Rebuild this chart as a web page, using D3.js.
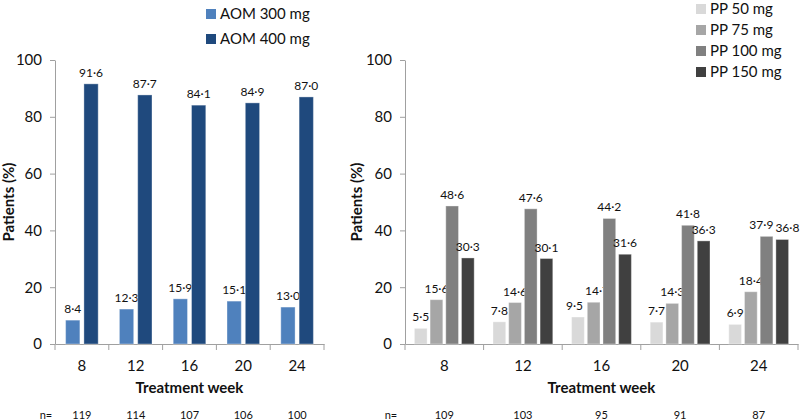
<!DOCTYPE html>
<html><head><meta charset="utf-8">
<script src="https://cdn.jsdelivr.net/npm/d3@7"></script>
<style>body{margin:0;background:#fff}svg{display:block;font-family:Lato,"Open Sans",sans-serif}</style>
</head><body><svg id="c" width="800" height="420"></svg>
<script>
const weeks = ["8","12","16","20","24"];
const aomSeries = ["AOM 300 mg","AOM 400 mg"];
const aom300 = [8.4,12.3,15.9,15.1,13.0];
const aom400 = [91.6,87.7,84.1,84.9,87.0];
const aomN = [119,114,107,106,100];
const ppSeries = ["PP 50 mg","PP 75 mg","PP 100 mg","PP 150 mg"];
const pp50 = [5.5,7.8,9.5,7.7,6.9];
const pp75 = [15.6,14.6,14.7,14.3,18.4];
const pp100 = [48.6,47.6,44.2,41.8,37.9];
const pp150 = [30.3,30.1,31.6,36.3,36.8];
const ppN = [109,103,95,91,87];
const yTicks = [0,20,40,60,80,100];

const aomColors = ["#4F81BD","#1F497D"];
const ppColors = ["#D9D9D9","#A6A6A6","#808080","#404040"];
const fmt = v => v.toFixed(1).replace(".", "\u00B7");

const svg = d3.select("#c");

function panel(cfg){
  const g = svg.append("g");
  const y = d3.scaleLinear().domain([0,100]).range([344,60]);
  const x0 = d3.scaleBand().domain(weeks).range([cfg.x0, cfg.x1]);
  const x1 = d3.scaleBand().domain(cfg.series).range([0, x0.bandwidth()]).paddingInner(cfg.pi).paddingOuter(cfg.po);
  const ya = g.append("g").attr("transform",`translate(${cfg.x0},0)`)
    .call(d3.axisLeft(y).tickValues(yTicks).tickSize(5).tickSizeOuter(0).tickPadding(8));
  ya.select(".domain").attr("stroke","#A0A0A0");
  ya.selectAll(".tick line").attr("stroke","#A0A0A0");
  ya.selectAll(".tick text").attr("font-size",15).attr("fill","#111").attr("font-family","Lato,'Open Sans',sans-serif");
  const xa = g.append("g").attr("transform","translate(0,344)")
    .call(d3.axisBottom(x0).tickSize(0).tickPadding(16));
  xa.select(".domain").attr("stroke","#A0A0A0");
  xa.selectAll(".tick text").attr("font-size",15).attr("fill","#111").attr("font-family","Lato,'Open Sans',sans-serif");
  const bounds = weeks.map(w=>x0(w)).concat([cfg.x1]);
  g.selectAll("line.sep").data(bounds).enter().append("line")
    .attr("x1",d=>d).attr("x2",d=>d).attr("y1",344).attr("y2",350).attr("stroke","#A0A0A0");
  const labels = weeks.map(()=>[]);
  cfg.series.forEach((s,si)=>{
    const vals = cfg.values[si];
    const gg = g.append("g");
    gg.selectAll("rect").data(vals).enter().append("rect")
      .attr("x",(d,i)=>x0(weeks[i])+x1(s)).attr("width",x1.bandwidth())
      .attr("y",d=>y(d)).attr("height",d=>y(0)-y(d))
      .attr("fill",cfg.colors[si]).attr("stroke","rgba(255,255,255,0.35)").attr("stroke-width",1);
    gg.selectAll("text").data(vals).enter().append("text")
      .attr("x",(d,i)=>x0(weeks[i])+x1(s)+x1.bandwidth()/2).attr("y",d=>y(d)-7)
      .attr("text-anchor","middle").attr("font-size",12).attr("fill","#111").text(fmt)
      .each(function(d,i){ labels[i].push(this); });
  });
  // nudge overlapping neighbour labels apart
  labels.forEach(arr=>{
    for(let k=0;k<arr.length-1;k++){
      const a=arr[k], b=arr[k+1];
      const ba=a.getBBox(), bb=b.getBBox();
      const vOver = Math.abs(ba.y-bb.y) < ba.height;
      const hOver = ba.x+ba.width+2 - bb.x;
      if(vOver && hOver>0){
        a.setAttribute("x", +a.getAttribute("x") - hOver/2);
        b.setAttribute("x", +b.getAttribute("x") + hOver/2);
      }
    }
  });
  g.append("text").attr("x",(cfg.x0+cfg.x1)/2).attr("y",393).attr("text-anchor","middle")
    .attr("font-size",15).attr("font-weight","bold").attr("fill","#111").text("Treatment week");
  g.append("text").attr("transform",`translate(${cfg.yt},202) rotate(-90)`).attr("text-anchor","middle")
    .attr("font-size",15).attr("font-weight","bold").attr("fill","#111").text("Patients (%)");
  g.append("text").attr("x",cfg.nx).attr("y",419).attr("text-anchor","middle").attr("font-size",11).attr("fill","#111").text("n=");
  g.selectAll("text.n").data(cfg.n).enter().append("text").attr("class","n")
    .attr("x",(d,i)=>x0(weeks[i])+x0.bandwidth()/2).attr("y",419).attr("text-anchor","middle")
    .attr("font-size",11).attr("fill","#111").text(d=>d);
  const lg = g.append("g");
  cfg.series.forEach((s,i)=>{
    const cy = cfg.ly + i*cfg.ldy;
    lg.append("rect").attr("x",cfg.lx).attr("y",cy-5).attr("width",10).attr("height",10).attr("fill",cfg.colors[i]);
    lg.append("text").attr("x",cfg.lx+14).attr("y",cy).attr("dy","0.35em").attr("font-size",15).attr("fill","#111").text(s);
  });
}

panel({x0:55,x1:324,series:aomSeries,values:[aom300,aom400],colors:aomColors,pi:0.22,po:0.58,
  n:aomN,nx:46,yt:14,lx:206,ly:14,ldy:25});
panel({x0:405,x1:798,series:ppSeries,values:[pp50,pp75,pp100,pp150],colors:ppColors,pi:0.19,po:0.6,
  n:ppN,nx:391,yt:362,lx:696,ly:9,ldy:21});
</script></body></html>
